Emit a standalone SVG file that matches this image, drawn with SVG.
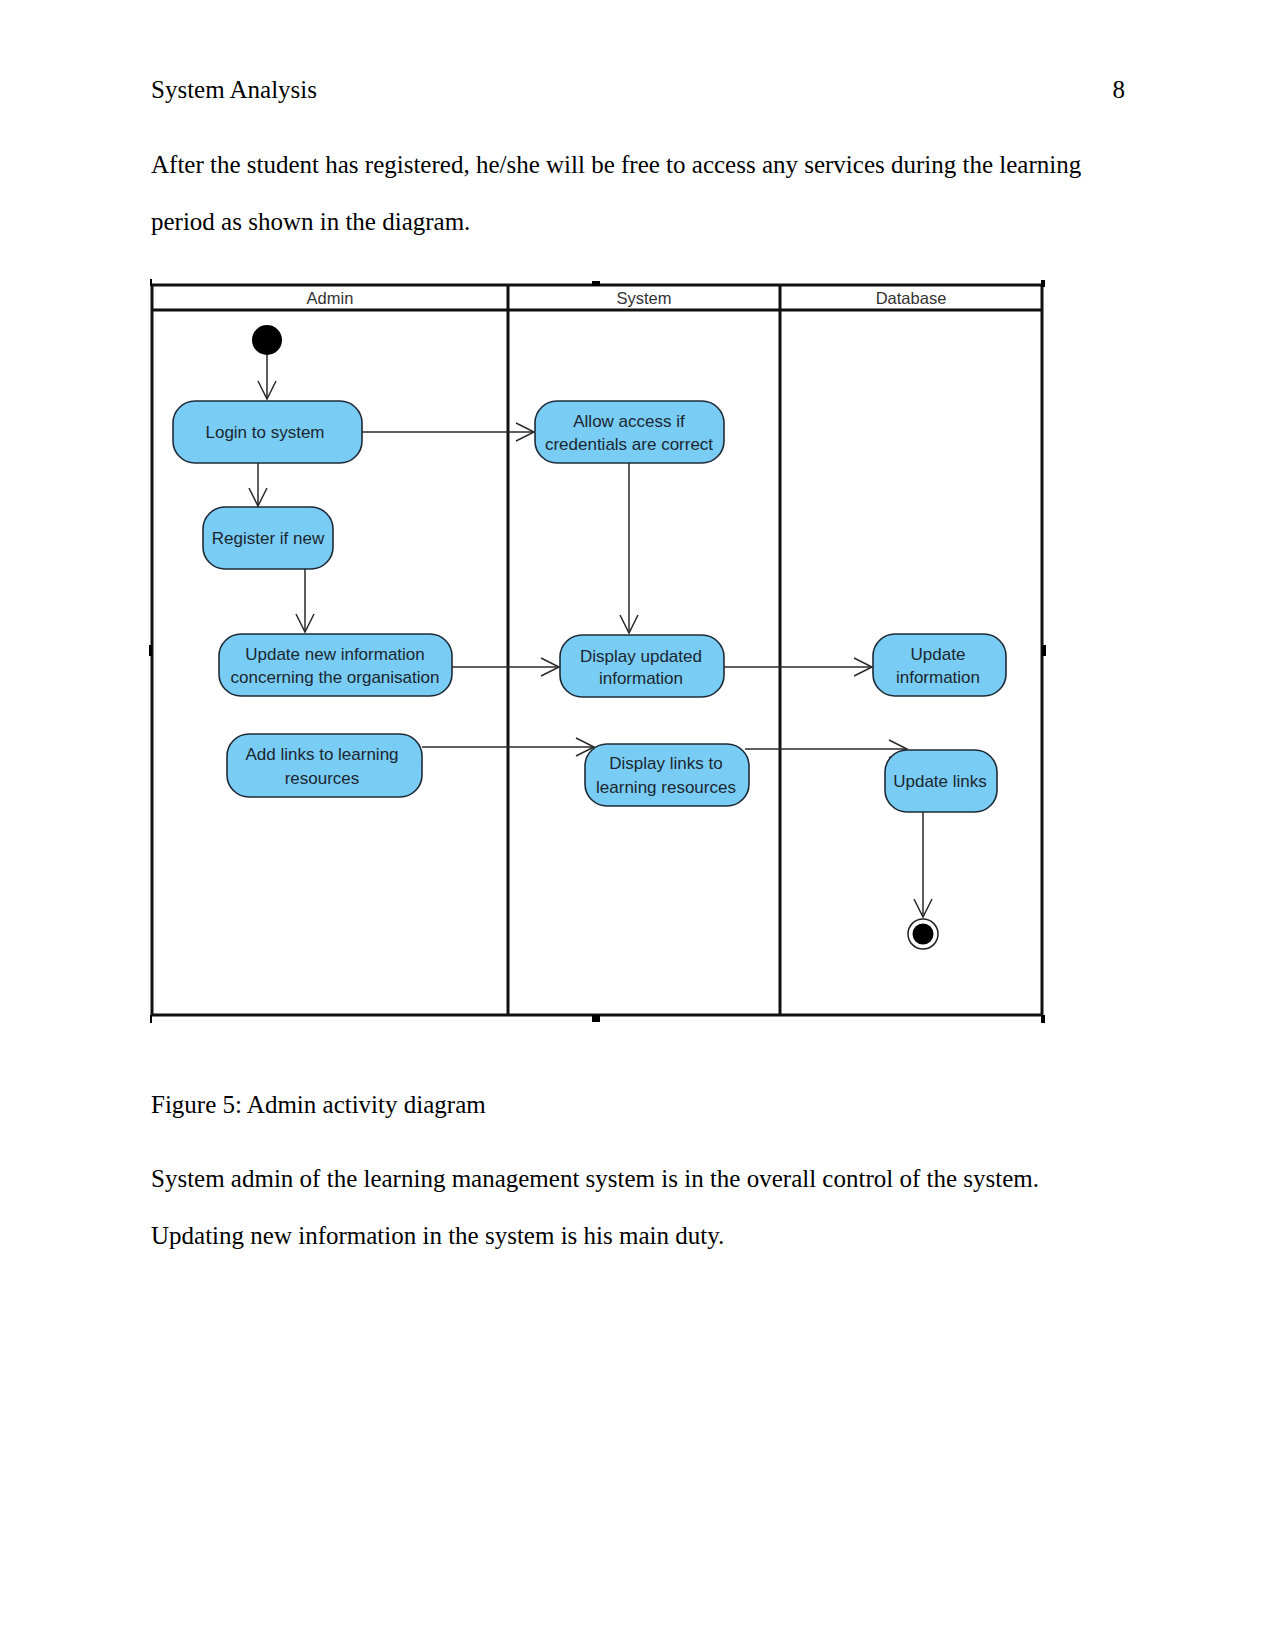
<svg xmlns="http://www.w3.org/2000/svg" width="1275" height="1650" viewBox="0 0 1275 1650">
  <style>
    .doc { font-family: "Liberation Serif", "Times New Roman", serif; font-size: 25px; fill: #000; }
    .lane { font-family: "Liberation Sans", Arial, sans-serif; font-size: 16.5px; fill: #333; text-anchor: middle; }
    .frame { stroke: #111; stroke-width: 3; fill: none; }
    .node rect { fill: #79CDF4; stroke: #1e2b36; stroke-width: 1.6; }
    .node text { font-family: "Liberation Sans", Arial, sans-serif; font-size: 17px; fill: #1b2631; text-anchor: middle; }
    .conn { stroke: #2a2a2a; stroke-width: 1.5; fill: none; marker-end: url(#open); }
    .mark { fill: #000; }
  </style>
  <defs>
    <marker id="open" viewBox="-20 -11 22 22" refX="0" refY="0" markerWidth="22" markerHeight="22" markerUnits="userSpaceOnUse" orient="auto">
      <path d="M-18,-9 L0,0 L-18,9" fill="none" stroke="#2a2a2a" stroke-width="1.5"/>
    </marker>
  </defs>
  <rect width="1275" height="1650" fill="#fff"/>

  <!-- Document text -->
  <text class="doc" x="151" y="98">System Analysis</text>
  <text class="doc" x="1125" y="98" text-anchor="end">8</text>
  <text class="doc" x="151" y="173">After the student has registered, he/she will be free to access any services during the learning</text>
  <text class="doc" x="151" y="230">period as shown in the diagram.</text>
  <text class="doc" x="151" y="1113">Figure 5: Admin activity diagram</text>
  <text class="doc" x="151" y="1187">System admin of the learning management system is in the overall control of the system.</text>
  <text class="doc" x="151" y="1244">Updating new information in the system is his main duty.</text>

  <!-- Swimlane frame -->
  <g id="swimlanes">
    <rect class="frame" x="152" y="285" width="890" height="730"/>
    <line class="frame" x1="152" y1="310" x2="1042" y2="310"/>
    <line class="frame" x1="508" y1="285" x2="508" y2="1015"/>
    <line class="frame" x1="780" y1="285" x2="780" y2="1015"/>
    <text class="lane" x="330" y="304">Admin</text>
    <text class="lane" x="644" y="304">System</text>
    <text class="lane" x="911" y="304">Database</text>
    <rect class="mark" x="592" y="281" width="8" height="5"/>
    <rect class="mark" x="592" y="1015" width="8" height="7"/>
    <rect class="mark" x="150" y="279" width="2" height="7"/>
    <rect class="mark" x="1041" y="280" width="4" height="7"/>
    <rect class="mark" x="150" y="1015" width="2" height="8"/>
    <rect class="mark" x="1041" y="1015" width="4" height="8"/>
    <rect class="mark" x="149" y="645" width="3" height="11"/>
    <rect class="mark" x="1042" y="645" width="4" height="11"/>
  </g>

  <!-- Connectors -->
  <g id="connectors">
    <path class="conn" d="M267,355 L267,399"/>
    <path class="conn" d="M362,432 L534,432"/>
    <path class="conn" d="M258,463 L258,506"/>
    <path class="conn" d="M305,569 L305,632"/>
    <path class="conn" d="M629,463 L629,633"/>
    <path class="conn" d="M452,667 L559,667"/>
    <path class="conn" d="M724,667 L872,667"/>
    <path class="conn" d="M422,747 L594,747"/>
    <path class="conn" d="M745,749 L907,749"/>
    <path class="conn" d="M923,812 L923,917"/>
  </g>

  <!-- Nodes -->
  <g id="start">
    <circle cx="267" cy="340" r="15" fill="#000"/>
  </g>
  <g id="login" class="node">
    <rect x="173" y="401" width="189" height="62" rx="22" ry="22"/>
    <text x="265" y="438">Login to system</text>
  </g>
  <g id="register" class="node">
    <rect x="203" y="507" width="130" height="62" rx="22" ry="22"/>
    <text x="268" y="544">Register if new</text>
  </g>
  <g id="update-new-info" class="node">
    <rect x="219" y="634" width="233" height="62" rx="22" ry="22"/>
    <text x="335" y="660">Update new information</text>
    <text x="335" y="683">concerning the organisation</text>
  </g>
  <g id="add-links" class="node">
    <rect x="227" y="734" width="195" height="63" rx="22" ry="22"/>
    <text x="322" y="760">Add links to learning</text>
    <text x="322" y="784">resources</text>
  </g>
  <g id="allow-access" class="node">
    <rect x="535" y="401" width="189" height="62" rx="22" ry="22"/>
    <text x="629" y="427">Allow access if</text>
    <text x="629" y="450">credentials are correct</text>
  </g>
  <g id="display-updated" class="node">
    <rect x="560" y="635" width="164" height="62" rx="22" ry="22"/>
    <text x="641" y="662">Display updated</text>
    <text x="641" y="684">information</text>
  </g>
  <g id="display-links" class="node">
    <rect x="585" y="744" width="164" height="62" rx="22" ry="22"/>
    <text x="666" y="769">Display links to</text>
    <text x="666" y="793">learning resources</text>
  </g>
  <g id="update-information" class="node">
    <rect x="873" y="634" width="133" height="62" rx="22" ry="22"/>
    <text x="938" y="660">Update</text>
    <text x="938" y="683">information</text>
  </g>
  <g id="update-links" class="node">
    <rect x="885" y="750" width="112" height="62" rx="22" ry="22"/>
    <text x="940" y="787">Update links</text>
  </g>
  <g id="end">
    <circle cx="923" cy="934" r="15" fill="#fff" stroke="#222" stroke-width="1.5"/>
    <circle cx="923" cy="934" r="10.5" fill="#000"/>
  </g>
</svg>
